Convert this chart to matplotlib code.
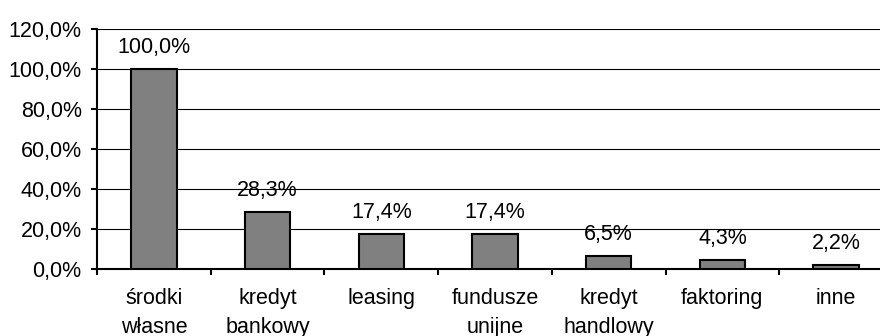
import matplotlib
matplotlib.use("Agg")
import matplotlib.pyplot as plt
import numpy as np
from matplotlib.ticker import FixedLocator

categories = ["środki\nwłasne", "kredyt\nbankowy", "leasing", "fundusze\nunijne",
              "kredyt\nhandlowy", "faktoring", "inne"]
values = [100.0, 28.3, 17.4, 17.4, 6.5, 4.3, 2.2]
yticks = [0, 20, 40, 60, 80, 100, 120]


def pl_pct(v):
    return f"{v:.1f}%".replace(".", ",")


plt.rcParams["font.family"] = ["Liberation Sans", "DejaVu Sans"]

fig = plt.figure(figsize=(8.8, 3.36), dpi=100)
ax = fig.add_axes([97 / 880, 67 / 336, 796 / 880, 240 / 336])

x = np.arange(len(categories))
bars = ax.bar(x, values, width=0.40, color="#808080", edgecolor="black",
              linewidth=1.5, zorder=3)

for xi, v in zip(x, values):
    ax.annotate(pl_pct(v), (xi, v), xytext=(0, 11.5), textcoords="offset points",
                ha="center", va="baseline", fontsize=15.5, zorder=4)

ax.set_xlim(-0.5, len(categories) - 0.5)
ax.set_ylim(0, 120)
ax.set_yticks(yticks)
ax.set_yticklabels([pl_pct(t) for t in yticks], fontsize=15.5)
ax.yaxis.grid(True, color="black", linewidth=0.8, zorder=0)
ax.set_axisbelow(True)

ax.set_xticks(x)
ax.set_xticklabels(categories, fontsize=15.5, linespacing=1.45)
ax.xaxis.set_minor_locator(FixedLocator(np.arange(-0.5, len(categories), 1.0)))
ax.tick_params(axis="x", which="major", length=0, pad=14)
ax.tick_params(axis="x", which="minor", length=4, width=1.5, direction="out")
ax.tick_params(axis="y", length=4, width=1.5, direction="out", pad=7)

for side in ("top", "right"):
    ax.spines[side].set_visible(False)
for side in ("left", "bottom"):
    ax.spines[side].set_linewidth(1.5)
    ax.spines[side].set_color("black")

fig.savefig("out.png", dpi=100)
